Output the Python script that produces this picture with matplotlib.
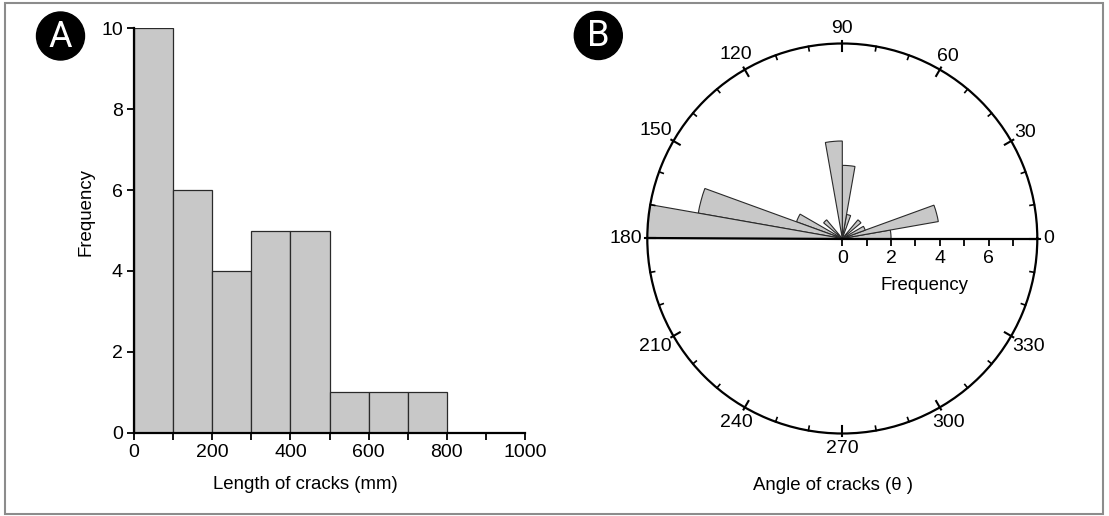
import numpy as np
import matplotlib
matplotlib.use("Agg")
import matplotlib.pyplot as plt
from matplotlib.patches import Circle, Rectangle
from matplotlib.ticker import MultipleLocator
from matplotlib.markers import TICKDOWN

plt.rcParams['font.family'] = ['Liberation Sans', 'DejaVu Sans']

# --- data: crack lengths (panel A) ---
length_bins = [0, 100, 200, 300, 400, 500, 600, 700]   # left edge of each bin, mm
length_counts = [10, 6, 4, 5, 5, 1, 1, 1]
bin_width = 100

# --- data: crack orientation (panel B), 10 degree sectors ---
angle_bins = [0, 10, 20, 40, 70, 80, 90, 130, 150, 160, 170]   # sector start, degrees
angle_counts = [2, 4, 1, 1, 1, 3, 4, 1, 2, 6, 8]
sector_width = 10
theta_ticks = list(range(0, 360, 30))
r_ticks = [0, 2, 4, 6]
r_max = 8

W, H = 1109, 516
fig = plt.figure(figsize=(W / 100, H / 100), dpi=100)

bar_face = '#c8c8c8'
bar_edge = '#2a2a2a'
fs_tick = 14
fs_lab = 13.4

# ---------------- panel A: histogram ----------------
axA = fig.add_axes([134 / W, 1 - 432.7 / H, 391 / W, 404.4 / H])
axA.bar(length_bins, length_counts, width=bin_width, align='edge',
        color=bar_face, edgecolor=bar_edge, linewidth=0.9)
axA.set_xlim(0, 1000)
axA.set_ylim(0, 10)
axA.xaxis.set_major_locator(MultipleLocator(200))
axA.xaxis.set_minor_locator(MultipleLocator(100))
axA.yaxis.set_major_locator(MultipleLocator(2))
for s in ['top', 'right']:
    axA.spines[s].set_visible(False)
for s in ['left', 'bottom']:
    axA.spines[s].set_linewidth(1.6)
axA.tick_params(which='both', direction='out', length=5, width=1.3,
                labelsize=fs_tick, pad=3)
axA.set_xlabel('Length of cracks (mm)', fontsize=fs_lab)
axA.set_ylabel('Frequency', fontsize=fs_lab)
axA.xaxis.set_label_coords((305 - 134) / 391, -43 / 404.4)
axA.yaxis.set_label_coords(-39 / 391, (432.7 - 212) / 404.4)

# ---------------- panel B: rose diagram ----------------
cx, cy, rad = 842.3, 238.5, 195
axB = fig.add_axes([(cx - rad) / W, 1 - (cy + rad) / H, 2 * rad / W, 2 * rad / H],
                   projection='polar')
axB.bar(np.deg2rad(angle_bins), angle_counts, width=np.deg2rad(sector_width),
        align='edge', color=bar_face, edgecolor=bar_edge, linewidth=0.8, zorder=2)
axB.set_ylim(0, r_max)
axB.set_yticks([])
axB.set_xticks([])
axB.grid(False)
axB.spines['polar'].set_linewidth(1.6)

# tick marks on the outer circle: every 10 deg, longer every 30 deg
for a in range(0, 360, 10):
    t = np.deg2rad(a)
    if a % 30 == 0:
        axB.plot([t, t], [r_max - 0.3, r_max + 0.1], color='black', lw=1.5,
                 clip_on=False, zorder=3)
    else:
        axB.plot([t, t], [r_max - 0.18, r_max], color='black', lw=1.2,
                 clip_on=False, zorder=3)

# angle labels, pushed out by the label's half extent
for a in theta_ticks:
    t = np.deg2rad(a)
    w2 = 10.5 * len(str(a)) / 2
    h2 = 9
    d = 6 + np.hypot(np.cos(t) * w2, np.sin(t) * h2)
    d *= 0.72
    axB.annotate(str(a), xy=(t, r_max), xytext=(d * np.cos(t), d * np.sin(t)),
                 textcoords='offset points', ha='center', va='center',
                 fontsize=fs_tick, annotation_clip=False)

# radial axis along the 0-180 diameter
axB.plot([np.pi, np.pi], [r_max, 0], color='black', lw=1.6, zorder=3, clip_on=False)
axB.plot([0, 0], [0, r_max], color='black', lw=1.6, zorder=3, clip_on=False)
axB.plot(np.zeros(r_max), np.arange(r_max), linestyle='none', marker=TICKDOWN,
         markersize=5, markeredgewidth=1.3, color='black', zorder=3, clip_on=False)
for r in r_ticks:
    axB.annotate(str(r), xy=(0, r), xytext=(0, -8), textcoords='offset points',
                 ha='center', va='top', fontsize=fs_tick)
fig.text(925 / W, 1 - 285 / H, 'Frequency', ha='center', va='center', fontsize=fs_lab)
fig.text(833 / W, 1 - 485 / H, 'Angle of cracks (\u03b8 )', ha='center', va='center',
         fontsize=fs_lab)

# ---------------- frame and panel badges ----------------
ov = fig.add_axes([0, 0, 1, 1], zorder=-1)
ov.set_xlim(0, W)
ov.set_ylim(H, 0)
ov.axis('off')
ov.add_patch(Rectangle((5, 2.5), 1098, 511, fill=False, edgecolor='#8c8c8c', lw=1.5))

ov2 = fig.add_axes([0, 0, 1, 1], zorder=5)
ov2.set_xlim(0, W)
ov2.set_ylim(H, 0)
ov2.axis('off')
for (bx, by, letter) in [(60.5, 36, 'A'), (598.3, 35.5, 'B')]:
    ov2.add_patch(Circle((bx, by), 24, color='black'))
    ov2.text(bx, by + 1, letter, color='white', ha='center', va='center',
             fontsize=26, family=['Roboto', 'DejaVu Sans'], fontweight='normal')

fig.savefig('out.png', dpi=100)
